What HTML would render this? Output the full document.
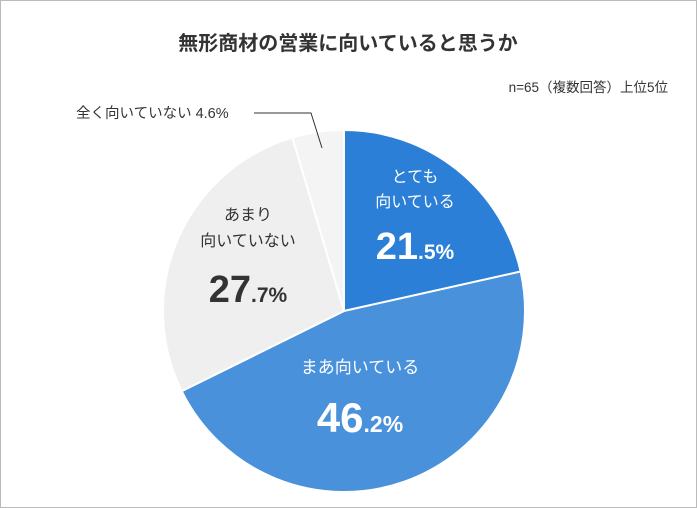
<!DOCTYPE html>
<html><head><meta charset="utf-8"><style>
body{margin:0;background:#fff}
#c{position:relative;width:697px;height:508px;overflow:hidden}
text{font-family:"Liberation Sans","Noto Sans CJK JP",sans-serif}
</style></head><body>
<div id="c">
<svg id="svg" width="697" height="508">
<rect x="0.5" y="0.5" width="696" height="507" fill="#fff" stroke="#bbb"/>
<text x="348" y="50" text-anchor="middle" font-size="20" font-weight="bold" fill="#333">無形商材の営業に向いていると思うか</text>
<text x="668" y="92" text-anchor="end" font-size="13.5" fill="#333">n=65（複数回答）上位5位</text>
<g id="slices"></g>
<polyline points="254,113 311,113 322,148" fill="none" stroke="#333" stroke-width="1"/>
<text x="76" y="118" font-size="14.5" fill="#333">全く向いていない 4.6%</text>
<g>
<text x="415" y="182" text-anchor="middle" font-size="16" fill="#fff">とても</text>
<text x="415" y="207" text-anchor="middle" font-size="16" fill="#fff">向いている</text>
<text x="415" y="259" text-anchor="middle" fill="#fff" font-weight="bold"><tspan font-size="38">21</tspan><tspan font-size="21">.5%</tspan></text>
</g>
<g>
<text x="360" y="373" text-anchor="middle" font-size="17" fill="#fff">まあ向いている</text>
<text x="360" y="432" text-anchor="middle" fill="#fff" font-weight="bold"><tspan font-size="42">46</tspan><tspan font-size="23">.2%</tspan></text>
</g>
<g>
<text x="248" y="220" text-anchor="middle" font-size="16" fill="#333">あまり</text>
<text x="248" y="246" text-anchor="middle" font-size="16" fill="#333">向いていない</text>
<text x="248" y="302" text-anchor="middle" fill="#333" font-weight="bold"><tspan font-size="38">27</tspan><tspan font-size="21">.7%</tspan></text>
</g>
</svg>
</div>
<script>
const categories=["とても向いている","まあ向いている","あまり向いていない","全く向いていない"];
const values=[21.5,46.2,27.7,4.6];
const colors=["#2b7fd6","#4a91dc","#efefef","#f4f4f4"];
const cx=344,cy=311,r=181;
const g=document.getElementById('slices');
const total=values.reduce((a,b)=>a+b,0);
let a0=-Math.PI/2;
values.forEach((v,i)=>{
  const a1=a0+v/total*2*Math.PI;
  const x0=cx+r*Math.cos(a0),y0=cy+r*Math.sin(a0),x1=cx+r*Math.cos(a1),y1=cy+r*Math.sin(a1);
  const p=document.createElementNS('http://www.w3.org/2000/svg','path');
  p.setAttribute('d',`M${cx},${cy}L${x0},${y0}A${r},${r} 0 ${a1-a0>Math.PI?1:0} 1 ${x1},${y1}Z`);
  p.setAttribute('fill',colors[i]);
  p.setAttribute('stroke','#fff');
  p.setAttribute('stroke-width','2');
  
  
  g.appendChild(p);
  a0=a1;
});
</script>
</body></html>
